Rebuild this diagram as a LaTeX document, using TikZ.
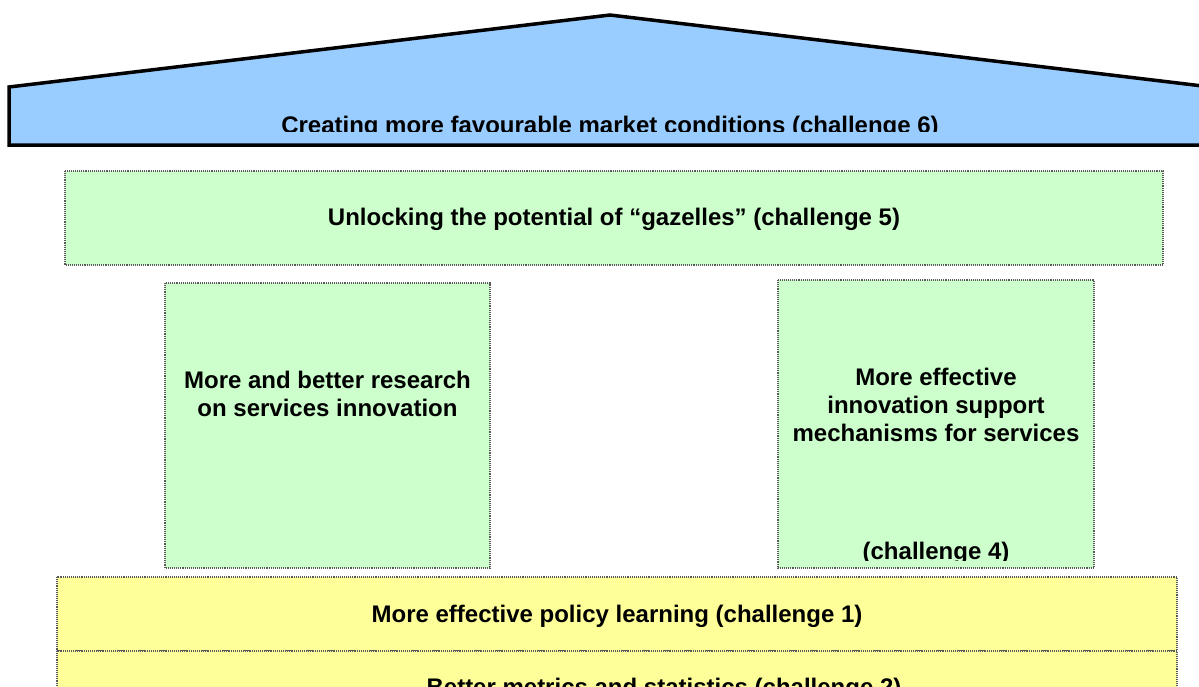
\documentclass[tikz,border=0pt]{standalone}
\usepackage{fontspec}
\setmainfont{Liberation Sans}
\definecolor{roofblue}{HTML}{99CCFF}
\definecolor{pillargreen}{HTML}{CCFFCC}
\definecolor{baseyellow}{HTML}{FFFF99}
\tikzset{
  housebox/.style={draw=black!65, densely dotted, line width=1.1pt},
  housetext/.style={font=\bfseries\fontsize{24}{27.6}\selectfont, align=center, inner sep=0pt}
}
\begin{document}
\begin{tikzpicture}[x=1pt,y=-1pt]
            \useasboundingbox (0,0) rectangle (1199,686);
            \clip (0,0) rectangle (1199,686);

            % Drawing roof
            \filldraw [fill=roofblue, line width=3.5pt, line join=miter] (9,145) -- (9,87) -- (610,15) -- (1211,87) -- (1211,145) -- cycle;%
            \begin{scope}
              \clip (9,0) rectangle (1199,131.7);
              \node [housetext, anchor=base] (market) at (610,133) {Creating more favourable market conditions (challenge 6)};%
            \end{scope}

            % Drawing band gazelles
            \filldraw [housebox, fill=pillargreen] (65,171) rectangle (1163,265);%
            \node [housetext, anchor=base] (gazelles) at (614,225) {Unlocking the potential of “gazelles” (challenge 5)};%

            % Drawing pillar research
            \filldraw [housebox, fill=pillargreen] (165,283) rectangle (490,568);%
            \node [housetext] (research) at (327.5,394) {More and better research\\on services innovation};%

            % Drawing pillar support
            \filldraw [housebox, fill=pillargreen] (778,280) rectangle (1094,568);%
            \node [housetext] (support) at (936,405) {More effective\\innovation support\\mechanisms for services};%
            \begin{scope}
              \clip (778,280) rectangle (1094,560.5);
              \node [housetext, anchor=base] (support4) at (936,559) {(challenge 4)};%
            \end{scope}

            % Drawing base learning
            \filldraw [housebox, fill=baseyellow] (57,577) rectangle (1177,651);%
            \node [housetext, anchor=base] (learning) at (617,622.6) {More effective policy learning (challenge 1)};%

            % Drawing base metrics
            \filldraw [housebox, fill=baseyellow] (57,651) rectangle (1177,725);%
            \node [housetext, anchor=base] (metrics) at (664,695.5) {Better metrics and statistics (challenge 2)};%
\end{tikzpicture}
\end{document}
